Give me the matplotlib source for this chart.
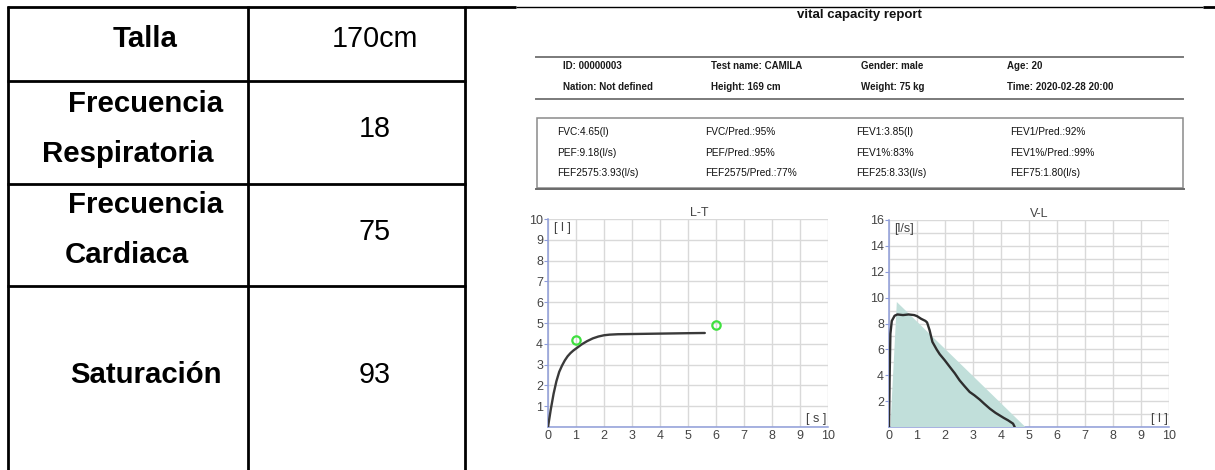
import matplotlib
matplotlib.use("Agg")
import matplotlib.pyplot as plt
from matplotlib.patches import Rectangle, Polygon

# ---- data -------------------------------------------------------------
table_labels = [["Talla"], ["Frecuencia", "Respiratoria"],
                ["Frecuencia", "Cardiaca"], ["Saturación"]]
table_values = ["170cm", "18", "75", "93"]

report_title = "vital capacity report"
header_rows = [
    ["ID: 00000003", "Test name: CAMILA", "Gender: male", "Age: 20"],
    ["Nation: Not defined", "Height: 169 cm", "Weight: 75 kg", "Time: 2020-02-28 20:00"],
]
metric_rows = [
    ["FVC:4.65(l)", "FVC/Pred.:95%", "FEV1:3.85(l)", "FEV1/Pred.:92%"],
    ["PEF:9.18(l/s)", "PEF/Pred.:95%", "FEV1%:83%", "FEV1%/Pred.:99%"],
    ["FEF2575:3.93(l/s)", "FEF2575/Pred.:77%", "FEF25:8.33(l/s)", "FEF75:1.80(l/s)"],
]

# volume-time curve
lt_time = [0, 0.1, 0.2, 0.3, 0.4, 0.5, 0.6, 0.7, 0.8, 0.9, 1.0, 1.2, 1.4,
           1.6, 1.8, 2.0, 2.2, 2.5, 3.0, 3.5, 4.0, 4.5, 5.0, 5.6]
lt_volume = [0, 0.85, 1.6, 2.2, 2.65, 2.95, 3.2, 3.4, 3.55, 3.67, 3.77, 3.97,
             4.13, 4.26, 4.35, 4.41, 4.44, 4.46, 4.47, 4.48, 4.49, 4.50, 4.51, 4.52]
lt_ref_time = [1, 6]
lt_ref_volume = [4.2, 4.88]

# flow-volume curve
vl_volume = [0, 0.02, 0.05, 0.1, 0.2, 0.3, 0.5, 0.7, 0.9, 1.0, 1.15, 1.3,
             1.36, 1.45, 1.55, 1.7, 1.81, 1.99, 2.17, 2.35, 2.52, 2.7, 2.88,
             3.05, 3.24, 3.4, 3.6, 3.8, 3.95, 4.1, 4.25, 4.43, 4.49]
vl_flow = [0, 3.5, 7.2, 8.2, 8.6, 8.7, 8.65, 8.7, 8.65, 8.57, 8.36, 8.2,
           8.08, 7.48, 6.58, 6.0, 5.63, 5.16, 4.65, 4.15, 3.61, 3.15, 2.71,
           2.45, 2.12, 1.8, 1.42, 1.1, 0.9, 0.7, 0.52, 0.26, 0]
pred_volume = [0.05, 0.28, 4.87]
pred_flow = [0, 9.66, 0]

# ---- figure -----------------------------------------------------------
W, H = 1215, 470
fig = plt.figure(figsize=(W / 100, H / 100), dpi=100)
fig.patch.set_facecolor("white")

page = fig.add_axes([0, 0, 1, 1])
page.set_xlim(0, W)
page.set_ylim(H, 0)
page.axis("off")

# table grid
BLACK_LW = 2.0
page.plot([7, 516], [6.5, 6.5], color="black", lw=BLACK_LW, solid_capstyle="butt")
page.plot([516, 1203], [6.5, 6.5], color="black", lw=1.0, solid_capstyle="butt")
page.plot([1203, W], [6.5, 6.5], color="black", lw=BLACK_LW, solid_capstyle="butt")
for x in (8, 247.5, 465):
    page.plot([x, x], [5.5, H], color="black", lw=BLACK_LW, solid_capstyle="butt")
for y in (81, 184, 286):
    page.plot([7, 466], [y, y], color="black", lw=BLACK_LW, solid_capstyle="butt")

TABLE_FONT = "Liberation Sans"
label_pos = [[(145, 47, "center")],
             [(68, 112, "left"), (42, 162, "left")],
             [(68, 213, "left"), (65, 263, "left")],
             [(70, 383, "left")]]
value_baselines = [47, 137, 240, 383]
for lines, spots in zip(table_labels, label_pos):
    for text, (x, y, ha) in zip(lines, spots):
        page.text(x, y, text, fontsize=21.2, fontweight="bold", family=TABLE_FONT,
                  ha=ha, va="baseline", color="black")
for text, y in zip(table_values, value_baselines):
    page.text(375, y, text, fontsize=20.7, family=TABLE_FONT,
              ha="center", va="baseline", color="black")

# report header
page.text(859, 15, report_title, fontsize=9.5, fontweight="bold",
          family=TABLE_FONT, ha="center", va="center", color="#111111")
RULE = "#7a7a7a"
page.plot([536, 1183], [56.5, 56.5], color=RULE, lw=1.4)
page.plot([536, 1183], [98.5, 98.5], color=RULE, lw=1.4)
header_x = [563, 711, 861, 1007]
header_y = [66, 87]
for row, y in zip(header_rows, header_y):
    for text, x in zip(row, header_x):
        page.text(x, y, text, fontsize=7, fontweight="bold", family=TABLE_FONT,
                  ha="left", va="center", color="#1a1a1a")

page.add_patch(Rectangle((536.5, 117.5), 646.5, 70.5, fill=False,
                         edgecolor="#8a8a8a", lw=1.1))
page.plot([536, 1183.5], [188.5, 188.5], color="#6a6a6a", lw=1.4)
metric_x = [557, 705, 856, 1010]
metric_y = [132, 153, 173]
for row, y in zip(metric_rows, metric_y):
    for text, x in zip(row, metric_x):
        page.text(x, y, text, fontsize=7.3, family=TABLE_FONT,
                  ha="left", va="center", color="#111111")

# ---- charts -----------------------------------------------------------
SPINE = "#8e9cd8"
GRID = "#d9d9d9"
TICK = "#444444"


def style_chart(ax, xmax, ymax, ymajor, title, title_x, ylab, xlab):
    ax.set_facecolor("none")
    ax.set_xlim(0, xmax)
    ax.set_ylim(0, ymax)
    ax.set_xticks(range(0, xmax + 1))
    ax.set_yticks(ymajor)
    ax.set_yticks(range(0, ymax + 1), minor=True)
    ax.grid(which="both", color=GRID, lw=1.0, zorder=0)
    ax.set_axisbelow(True)
    for side in ("top", "right"):
        ax.spines[side].set_visible(False)
    for side in ("left", "bottom"):
        ax.spines[side].set_color(SPINE)
        ax.spines[side].set_linewidth(1.1)
        ax.spines[side].set_zorder(1)
    ax.tick_params(which="major", axis="y", length=3, color=SPINE, pad=0.5,
                   labelsize=9, labelcolor=TICK)
    ax.tick_params(which="major", axis="x", length=0, pad=2,
                   labelsize=9, labelcolor=TICK)
    ax.tick_params(which="minor", length=0)
    for lab in ax.get_xticklabels() + ax.get_yticklabels():
        lab.set_family(TABLE_FONT)
    ax.text(title_x, 1.0, title, transform=ax.get_xaxis_transform(),
            ha="center", va="bottom", fontsize=9, color=TICK, family=TABLE_FONT)
    ax.text(0.02, 0.985, ylab, transform=ax.transAxes, ha="left", va="top",
            fontsize=9, color=TICK, family=TABLE_FONT)
    ax.text(0.995, 0.01, xlab, transform=ax.transAxes, ha="right", va="bottom",
            fontsize=9, color=TICK, family=TABLE_FONT)


ax_lt = fig.add_axes([548 / W, (H - 427) / H, 280 / W, 208 / H])
style_chart(ax_lt, 10, 10, range(1, 11), "L-T", 5.4, "[ l ]", "[ s ]")
ax_lt.plot(lt_time, lt_volume, color="#3a3a3a", lw=1.7, zorder=3,
           solid_capstyle="round")
ax_lt.plot(lt_ref_time, lt_ref_volume, ls="none", marker="o", ms=6,
           mfc="none", mec="#3fe03f", mew=1.6, zorder=4)

ax_vl = fig.add_axes([889 / W, (H - 427) / H, 280 / W, 207 / H])
style_chart(ax_vl, 10, 16, range(2, 17, 2), "V-L", 5.36, "[l/s]", "[ l ]")
ax_vl.add_patch(Polygon(list(zip(pred_volume, pred_flow)), closed=True,
                        facecolor="#c1dfda", edgecolor="none", zorder=2))
ax_vl.plot(vl_volume, vl_flow, color="#2e2e2e", lw=1.7, zorder=3,
           solid_capstyle="round")

fig.savefig("out.png", dpi=100, facecolor="white")
